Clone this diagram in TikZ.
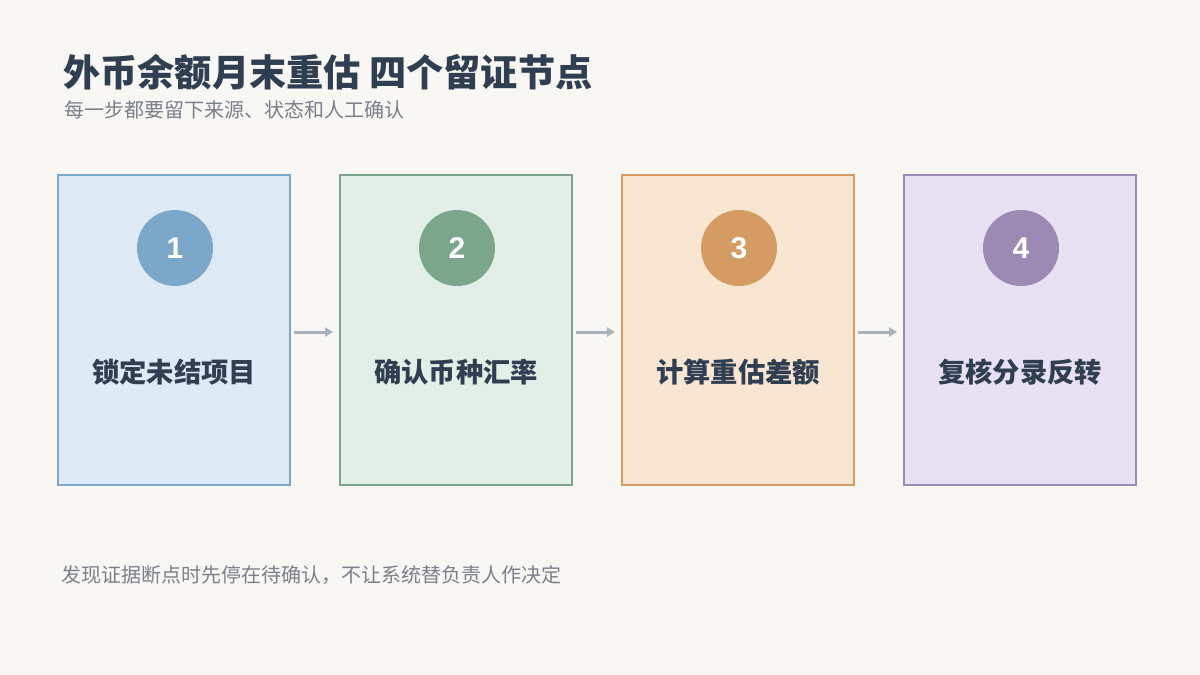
\documentclass[tikz,border=0pt]{standalone}
\usepackage{fontspec}
\setmainfont{Liberation Sans}
\newfontfamily\cjk{Noto Sans CJK SC}
\usetikzlibrary{arrows.meta}
\definecolor{bg}{HTML}{F9F7F4}
\definecolor{ink}{HTML}{2F3E50}
\definecolor{sub}{HTML}{7A808A}
\definecolor{arr}{HTML}{A8B2BC}
\definecolor{fA}{HTML}{DEEAF5}\definecolor{sA}{HTML}{7BA7C9}
\definecolor{fB}{HTML}{E1EFE7}\definecolor{sB}{HTML}{7BA68C}
\definecolor{fC}{HTML}{F8E6D3}\definecolor{sC}{HTML}{D49C63}
\definecolor{fD}{HTML}{E8E1F3}\definecolor{sD}{HTML}{9C8AB5}
\tikzset{
 card/.style={draw=#1,line width=2pt,minimum width=232pt,minimum height=310pt,inner sep=0pt},
 num/.style={circle,fill=#1,minimum size=76pt,inner sep=0pt,text=white,font=\fontsize{30}{30}\selectfont\bfseries},
 lab/.style={text=ink,font=\cjk\bfseries\fontsize{27.3}{27.3}\selectfont},
 flowarrow/.style={draw=arr,line width=3pt,-{Triangle[length=8pt,width=9pt]}}
}
\begin{document}
\begin{tikzpicture}[x=1pt,y=-1pt]
\fill[bg] (0,0) rectangle (1200,675);
\useasboundingbox (0,0) rectangle (1200,675);
\node[anchor=west,text=ink,font=\cjk\bfseries\fontsize{37.2}{37.2}\selectfont,inner sep=0pt] (t) at (63,72) {外币余额月末重估 四个留证节点};
\node[anchor=west,text=sub,font=\cjk\fontsize{20}{20}\selectfont,inner sep=0pt] (s) at (64,110) {每一步都要留下来源、状态和人工确认};
\foreach \i/\x/\f/\s/\t in {1/174/fA/sA/锁定未结项目,2/456/fB/sB/确认币种汇率,3/738/fC/sC/计算重估差额,4/1020/fD/sD/复核分录反转}{
  \node[card=\s,fill=\f] (c\i) at (\x,330) {};
  \node[num=\s] (n\i) at (\x+1,248) {\i};
  \node[lab] (l\i) at (\x,372) {\t};
}
\draw[flowarrow] ([xshift=3pt,yshift=-2pt]c1.east) -- ([xshift=-6pt,yshift=-2pt]c2.west);
\draw[flowarrow] ([xshift=3pt,yshift=-2pt]c2.east) -- ([xshift=-6pt,yshift=-2pt]c3.west);
\draw[flowarrow] ([xshift=3pt,yshift=-2pt]c3.east) -- ([xshift=-6pt,yshift=-2pt]c4.west);
\node[anchor=west,text=sub,font=\cjk\fontsize{20}{20}\selectfont,inner sep=0pt] (f) at (61,575) {发现证据断点时先停在待确认，不让系统替负责人作决定};
\end{tikzpicture}
\end{document}
